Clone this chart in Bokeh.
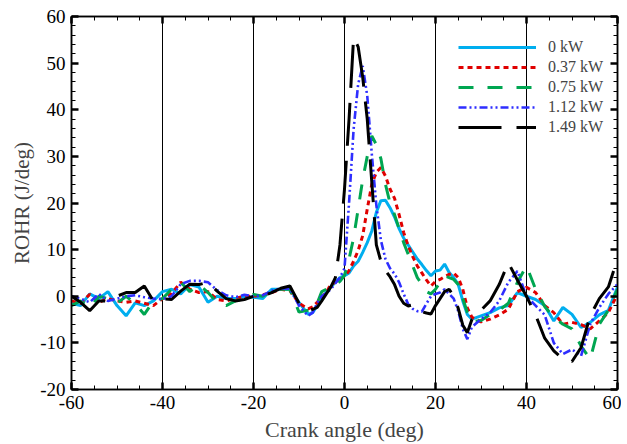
from bokeh.plotting import figure
from bokeh.models import (LinearAxis, SingleIntervalTicker, FixedTicker, PrintfTickFormatter,
                          Legend, LegendItem, Range1d, ColumnDataSource)
from bokeh.embed import file_html
from bokeh.resources import INLINE

crank_angle = [-60, -58, -56, -54, -52, -50, -48, -46, -44, -42, -40, -38, -36, -34, -32, -30,
               -28, -26, -24, -22, -20, -18, -16, -14, -12, -10,
               -8, -7, -6, -5, -4, -3, -2, -1, 0, 1, 2, 3, 4, 5, 6, 7, 8, 9,
               10, 11, 12, 13, 14, 15, 16, 17, 18, 19, 20, 21, 22, 23, 24, 25, 26, 27, 28,
               30, 32, 34, 36, 38, 40, 42, 44, 46, 48, 50, 52, 54, 56, 58, 60]

rohr_0kw = [-1.5, -2, 0.5, -0.5, 1, -2, -4.2, -1.4, -2, -1, 1, 1.5, 0.5, 2.5, 2, -1.3,
            0, -0.5, -0.5, 0, -0.2, -0.5, 1.5, 1.5, 1.5, -1.3,
            -3.9, -3.5, -2, -0.5, 0.8, 2, 3, 4, 4.4, 5, 6.5, 7.5, 9.4, 11.5, 14, 18, 20.5, 20.6,
            19, 17, 14.5, 12.5, 11, 9.5, 8, 6.8, 5.5, 4.4, 5.4, 5.6, 6.9, 5.1, 4, 2.5, -1, -3.9, -4.9,
            -4.2, -3.5, -2.5, -2, 0.8, 0, -0.7, -2, -5.3, -2.4, -3.9, -6.7, -5.6, -4, -3, 2]

rohr_037kw = [-1, -1.5, 0.4, -1.3, -0.5, -1, -1.3, -1, -1.5, -2, -0.5, 0.6, 3, 1.5, 0.8, 1,
              -0.7, -1, -0.5, 0, 0, 0.3, 0.8, 1.5, 1.2, -1.5,
              -2.7, -2.3, -1.3, -0.2, 0.8, 2.6, 3, 3.6, 4.2, 5.5, 7.5, 9.8, 13, 18.7, 24, 26.6, 27.6, 25.8,
              23, 21, 17.5, 13.7, 10.8, 8.5, 6.5, 5, 3.5, 2.2, 3.2, 3.6, 4.2, 4.7, 5, 4, 1.5, -2.5, -4.5,
              -5.5, -4.9, -4, -2.8, 1, 1.9, 0.8, -2, -3.5, -6, -5.6, -6.1, -7, -5.3, -3.5, 0.5]

rohr_075kw = [-2, -1, -2.5, 0, -0.5, -1.5, 0, -1.6, -3.9, -1, -0.5, 1.5, 3, 1, 2.5, 0.8,
              -1.3, -2, -1, -0.5, 0.4, 0, 1, 1.5, 1.5, -3.4,
              -3, -2.5, -1.5, 1, 1.5, 2.2, 2.5, 3.2, 4.5, 8, 12.5, 18.7, 25, 30, 34.4, 32.5, 29.5, 24,
              20, 17.5, 14.5, 11.5, 9, 6.5, 4, 2.6, 1, 0.5, 1.5, 3, 4.4, 4, 3.6, 2.5, -0.5, -3.5, -5.5,
              -5.2, -3.9, -3, -1.5, 3, 6.5, 1.5, -2.2, -4.5, -6, -7, -10.7, -13.5, -6, -3, 1.5]

rohr_112kw = [0, -0.5, -1.3, 0.5, -1, -0.5, 0, 0.2, -0.2, -0.5, -0.6, 0, 2.6, 3.3, 3.3, 3,
              1.3, 0.2, -0.2, 0.3, 0, 0.2, 1.2, 1.7, 1.6, -2,
              -4.2, -3.5, -1.5, 0, 0.7, 1.5, 2.8, 4, 6, 20, 35.8, 45.5, 49.4, 43, 30.5, 19.5, 12, 8,
              6, 4.8, 3, 0.5, -1.7, -2.7, -3.2, -3.3, -1.6, 0, 0.5, 0.8, 1.5, 0.5, -0.5, -3.2, -7, -9.2, -6.6,
              -4.9, -3.5, -1, 3, 5.4, 0, -2, -4, -10, -12.4, -11.4, -12.8, -6, -2.4, 0.5, 2.6]

rohr_149kw = [0, -1.3, -3.1, -1, -1, 0, 0.8, 0.8, 2.2, -1, -0.5, -0.7, 1.1, 2.6, 2.5, 3,
              1.1, -0.5, -1, -0.7, 0, 0, 0.8, 1.7, 2.2, -1.5,
              -3.1, -2.8, -2.4, -1, 0.5, 2, 4, 11, 23, 38, 55.5, 53.5, 47, 38, 24.5, 11, 7.5, 5.5,
              4.2, 2.5, 0, -1.5, -2.1, -1.8, -2.8, -3.3, -3.6, -3.8, -2, -0.5, 1, 1.5, 0, -2.6, -6.2, -7.8, -5,
              -3, -1, 2.5, 7.2, 3.5, 0, -4, -9, -11.7, -13.5, -14, -11, -4.2, -0.5, 2, 8]

labels = ["0 kW", "0.37 kW", "0.75 kW", "1.12 kW", "1.49 kW"]
series = [rohr_0kw, rohr_037kw, rohr_075kw, rohr_112kw, rohr_149kw]
colors = ["#00AEEF", "#E00000", "#00A651", "#2E2EFF", "#000000"]
dashes = ["solid", "5 4", "15 14", "8 3 2 3 2 3", "43 15"]
widths = [3, 3, 3, 2.6, 3]

FONT = "Liberation Serif"

p = figure(frame_width=546, frame_height=373,
           x_range=Range1d(-60, 60), y_range=Range1d(-20, 60),
           output_backend="svg", toolbar_location=None,
           min_border_left=71, min_border_right=4, min_border_top=16, min_border_bottom=40,
           background_fill_color="white", border_fill_color="white")
p.outline_line_color = "black"
p.outline_line_width = 1.5

# grid
p.ygrid.visible = False
p.xgrid.ticker = FixedTicker(ticks=[-40, -20, 0, 20, 40])
p.xgrid.grid_line_color = "black"
p.xgrid.grid_line_width = 1


def style_axis(ax, ticker, show_labels=True):
    ax.ticker = ticker
    ax.formatter = PrintfTickFormatter(format="%d")
    ax.major_tick_in = 7
    ax.major_tick_out = 0
    ax.minor_tick_in = 4
    ax.minor_tick_out = 0
    ax.major_tick_line_width = 2.5
    ax.minor_tick_line_width = 1
    ax.axis_line_width = 1.5
    ax.axis_line_color = "black"
    ax.major_tick_line_color = "black"
    ax.minor_tick_line_color = "black"
    ax.major_label_text_font = FONT
    if show_labels:
        ax.major_label_text_font_size = "19px"
        ax.major_label_text_color = "black"
    else:
        ax.major_label_text_font_size = "1px"
        ax.major_label_text_color = None
        ax.major_label_standoff = 0


xa = p.xaxis[0]
style_axis(xa, SingleIntervalTicker(interval=20, num_minor_ticks=4))
xa.major_label_standoff = 6
xa.axis_label = "Crank angle (deg)"
xa.axis_label_text_font = FONT
xa.axis_label_text_font_size = "22px"
xa.axis_label_text_font_style = "normal"
xa.axis_label_standoff = 5

ya = p.yaxis[0]
style_axis(ya, SingleIntervalTicker(interval=10, num_minor_ticks=5))
ya.major_label_standoff = 6
ya.axis_label = "ROHR (J/deg)"
ya.axis_label_text_font = FONT
ya.axis_label_text_font_size = "21px"
ya.axis_label_text_font_style = "normal"
ya.axis_label_standoff = 3

top = LinearAxis()
style_axis(top, SingleIntervalTicker(interval=20, num_minor_ticks=4), show_labels=False)
p.add_layout(top, "above")
right = LinearAxis()
style_axis(right, SingleIntervalTicker(interval=10, num_minor_ticks=5), show_labels=False)
p.add_layout(right, "right")

items = []
for lab, vals, col, dash, w in zip(labels, series, colors, dashes, widths):
    src = ColumnDataSource(data=dict(x=crank_angle, y=vals))
    r = p.line("x", "y", source=src, line_color=col, line_width=w, line_dash=dash)
    items.append(LegendItem(label=lab, renderers=[r]))

legend = Legend(items=items, location=(387, 252),
                border_line_color=None, background_fill_alpha=0,
                padding=0, margin=0, spacing=0,
                glyph_width=78, glyph_height=20, label_height=20, label_standoff=12,
                label_text_font=FONT, label_text_font_size="16px")
p.add_layout(legend)

open("out.html", "w").write(file_html(p, INLINE))
